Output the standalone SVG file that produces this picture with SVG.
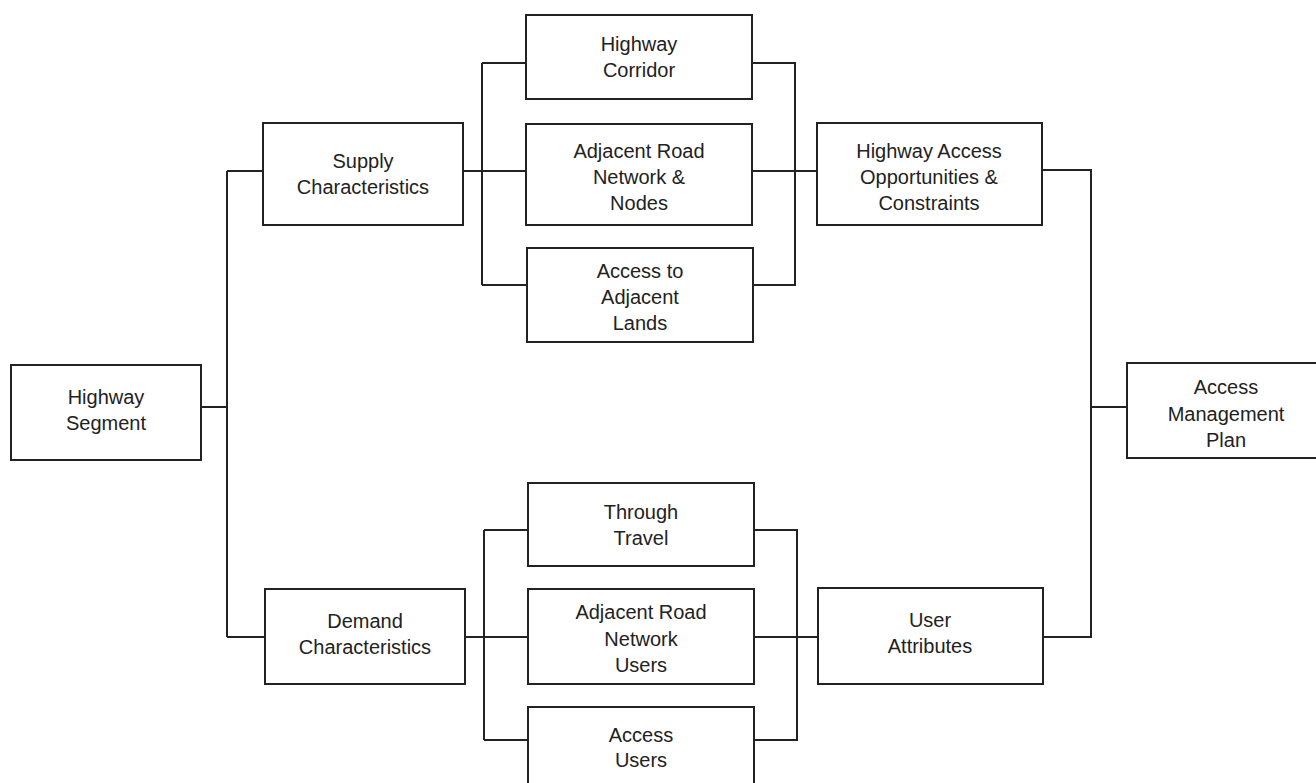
<svg xmlns="http://www.w3.org/2000/svg" width="1316" height="783" viewBox="0 0 1316 783">
<style>
.box{fill:#fff;stroke:#222;stroke-width:2}
.lbl{font-family:"Liberation Sans",Arial,sans-serif;font-size:20px;fill:#222;text-anchor:middle}
.con{fill:none;stroke:#222;stroke-width:2}
</style>
<rect width="1316" height="783" fill="#fff"/>
<g id="connectors" class="con">
<path d="M201,407 H227 M227,171 V637 M227,171 H263 M227,637 H265"/>
<path d="M463,171 H526 M482,63 V285 M482,63 H526 M482,285 H527"/>
<path d="M752,63 H795 V285 H753 M752,171 H817"/>
<path d="M1042,170 H1091 V637 H1043 M1091,407 H1127"/>
<path d="M465,637 H528 M484,530 V740 M484,530 H528 M484,740 H528"/>
<path d="M754,530 H797 V740 H754 M754,637 H818"/>
</g>
<g id="highway-segment"><rect class="box" x="11" y="365" width="190" height="95"/><text class="lbl" x="106" y="404">Highway</text><text class="lbl" x="106" y="430">Segment</text></g>
<g id="supply"><rect class="box" x="263" y="123" width="200" height="102"/><text class="lbl" x="363" y="168">Supply</text><text class="lbl" x="363" y="194">Characteristics</text></g>
<g id="corridor"><rect class="box" x="526" y="15" width="226" height="84"/><text class="lbl" x="639" y="51">Highway</text><text class="lbl" x="639" y="77">Corridor</text></g>
<g id="road-nodes"><rect class="box" x="526" y="124" width="226" height="101"/><text class="lbl" x="639" y="158">Adjacent Road</text><text class="lbl" x="639" y="184">Network &amp;</text><text class="lbl" x="639" y="210">Nodes</text></g>
<g id="lands"><rect class="box" x="527" y="248" width="226" height="94"/><text class="lbl" x="640" y="278">Access to</text><text class="lbl" x="640" y="304">Adjacent</text><text class="lbl" x="640" y="330">Lands</text></g>
<g id="hwy-access"><rect class="box" x="817" y="123" width="225" height="102"/><text class="lbl" x="929" y="158">Highway Access</text><text class="lbl" x="929" y="184">Opportunities &amp;</text><text class="lbl" x="929" y="210">Constraints</text></g>
<g id="amp"><rect class="box" x="1127" y="363" width="200" height="95"/><text class="lbl" x="1226" y="394">Access</text><text class="lbl" x="1226" y="421">Management</text><text class="lbl" x="1226" y="447">Plan</text></g>
<g id="demand"><rect class="box" x="265" y="589" width="200" height="95"/><text class="lbl" x="365" y="628">Demand</text><text class="lbl" x="365" y="654">Characteristics</text></g>
<g id="through"><rect class="box" x="528" y="483" width="226" height="83"/><text class="lbl" x="641" y="519">Through</text><text class="lbl" x="641" y="545">Travel</text></g>
<g id="road-users"><rect class="box" x="528" y="589" width="226" height="95"/><text class="lbl" x="641" y="619">Adjacent Road</text><text class="lbl" x="641" y="646">Network</text><text class="lbl" x="641" y="672">Users</text></g>
<g id="access-users"><rect class="box" x="528" y="707" width="226" height="90"/><text class="lbl" x="641" y="742">Access</text><text class="lbl" x="641" y="767">Users</text></g>
<g id="user-attr"><rect class="box" x="818" y="588" width="225" height="96"/><text class="lbl" x="930" y="627">User</text><text class="lbl" x="930" y="653">Attributes</text></g>
</svg>
